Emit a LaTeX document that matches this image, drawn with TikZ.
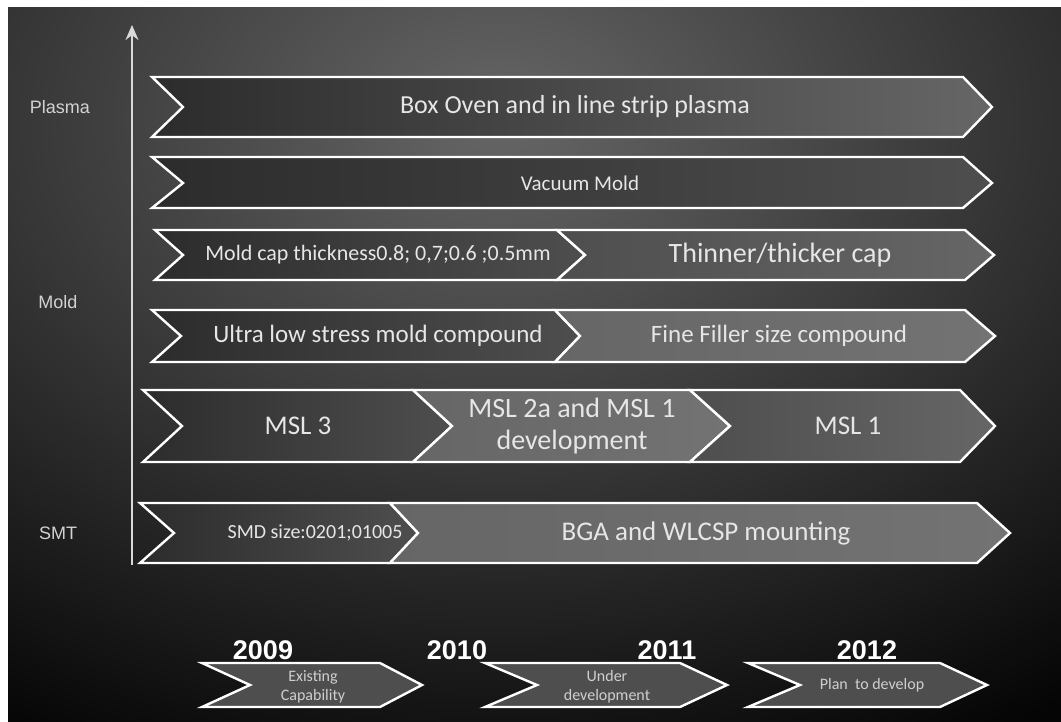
\documentclass[tikz,border=0pt]{standalone}
\usepackage{fontspec}
\setmainfont{Carlito}
\newfontfamily\arialfont{Liberation Sans}
\usetikzlibrary{arrows.meta}
\definecolor{glow}{HTML}{666666}
\definecolor{bgdark}{HTML}{050505}
\definecolor{txtgray}{HTML}{E6E6E6}
\definecolor{sidegray}{HTML}{D2D2D2}
\definecolor{darkfill}{HTML}{2C2C2C}
\definecolor{midfill}{HTML}{4E4E4E}
\definecolor{lightfill}{HTML}{666666}
\definecolor{paleFill}{HTML}{737373}
\begin{document}
\begin{tikzpicture}[x=1pt, y=-1pt, >={Stealth[length=15pt,width=13pt]},
  chev/.style={draw=white, line width=2.4pt, line join=miter},
  lbl/.style={text=txtgray, align=center},
  side/.style={text=sidegray, font=\arialfont\fontsize{18}{20}\selectfont},
  year/.style={text=white, font=\arialfont\bfseries\fontsize{27}{30}\selectfont},
  legtext/.style={text=txtgray!90!black, align=center, font=\fontsize{16}{19}\selectfont}]
\useasboundingbox (0,0) rectangle (1061,721);
\fill[white] (0,0) rectangle (1061,721);
\fill[bgdark] (8,7) rectangle (1061,721);
\begin{scope}
\clip (8,7) rectangle (1061,721);
\shade[inner color=glow, outer color=bgdark] (-500,-580) rectangle (1500,820);
\end{scope}

% axis
\coordinate (axbot) at (132,565);
\coordinate (axtop) at (132,25);
\draw[->, white!85!black, line width=2pt] (axbot) -- (axtop);
\node[side] (plasma) at (60,107) {Plasma};
\node[side] (mold) at (58,302) {Mold};
\node[side] (smt) at (58,533) {SMT};

% plasma
\draw[chev, left color=darkfill, right color=lightfill] (152,77) -- (963,77) -- (992,107) -- (963,137) -- (152,137) -- (183,107) -- cycle;
\node[lbl, font=\fontsize{26}{30}\selectfont] (oven) at (575,107) {Box Oven and in line strip plasma};

% mold
\draw[chev, left color=darkfill, right color=midfill] (152,157) -- (963,157) -- (992,183) -- (963,208) -- (152,208) -- (183,183) -- cycle;
\node[lbl, font=\fontsize{21}{24}\selectfont] (vacuum) at (580,183) {Vacuum Mold};

\draw[chev, left color=darkfill, right color=midfill] (155,230) -- (557,230) -- (585,255) -- (557,280) -- (155,280) -- (183,255) -- cycle;
\draw[chev, left color=midfill, right color=lightfill] (557,230) -- (965,230) -- (994,255) -- (965,280) -- (557,280) -- (585,255) -- cycle;
\node[lbl, font=\fontsize{22}{25}\selectfont] (capthick) at (378,255) {Mold cap thickness0.8; 0,7;0.6 ;0.5mm};
\node[lbl, font=\fontsize{28}{32}\selectfont] (thinner) at (780,255) {Thinner/thicker cap};

\draw[chev, left color=darkfill, right color=midfill] (152,310) -- (555,310) -- (580,336) -- (555,362) -- (152,362) -- (181,336) -- cycle;
\draw[chev, left color=lightfill, right color=paleFill] (555,310) -- (965,310) -- (995,336) -- (965,362) -- (555,362) -- (580,336) -- cycle;
\node[lbl, font=\fontsize{25}{28}\selectfont] (ultralow) at (378,336) {Ultra low stress mold compound};
\node[lbl, font=\fontsize{25}{28}\selectfont] (filler) at (779,336) {Fine Filler size compound};

\draw[chev, left color=darkfill, right color=midfill] (143,390) -- (413,390) -- (452,426) -- (413,462) -- (143,462) -- (182,426) -- cycle;
\draw[chev, left color=lightfill, right color=paleFill] (413,390) -- (690,390) -- (730,426) -- (690,462) -- (413,462) -- (452,426) -- cycle;
\draw[chev, left color=midfill, right color=lightfill] (690,390) -- (960,390) -- (995,426) -- (960,462) -- (690,462) -- (730,426) -- cycle;
\node[lbl, font=\fontsize{27}{30}\selectfont] (msl3) at (298,426) {MSL 3};
\node[lbl, font=\fontsize{28}{32}\selectfont] (msl2) at (572,426) {MSL 2a and MSL 1\\development};
\node[lbl, font=\fontsize{27}{30}\selectfont] (msl1) at (848,426) {MSL 1};

% smt
\draw[chev, left color=darkfill, right color=midfill] (140,503) -- (390,503) -- (418,533) -- (390,563) -- (140,563) -- (174,533) -- cycle;
\draw[chev, left color=lightfill, right color=paleFill] (390,503) -- (977,503) -- (1010,533) -- (977,563) -- (390,563) -- (418,533) -- cycle;
\node[lbl, font=\fontsize{20}{23}\selectfont] (smd) at (315,533) {SMD size:0201;01005};
\node[lbl, font=\fontsize{27}{30}\selectfont] (bga) at (706,533) {BGA and WLCSP mounting};

% years
\node[year] (y09) at (263,650) {2009};
\node[year] (y10) at (457,650) {2010};
\node[year] (y11) at (667,650) {2011};
\node[year] (y12) at (867,650) {2012};
\draw[chev, left color=midfill, right color=midfill] (202,663) -- (380,663) -- (422,685) -- (380,707) -- (202,707) -- (250,685) -- cycle;
\draw[chev, left color=midfill, right color=midfill] (485,663) -- (680,663) -- (727,685) -- (680,707) -- (485,707) -- (537,685) -- cycle;
\draw[chev, left color=midfill, right color=midfill] (748,663) -- (940,663) -- (987,685) -- (940,707) -- (748,707) -- (800,685) -- cycle;
\node[legtext] (exist) at (313,687) {Existing\\Capability};
\node[legtext] (under) at (607,687) {Under\\development};
\node[legtext] (plan) at (872,685) {Plan\ \ to develop};
\end{tikzpicture}
\end{document}
